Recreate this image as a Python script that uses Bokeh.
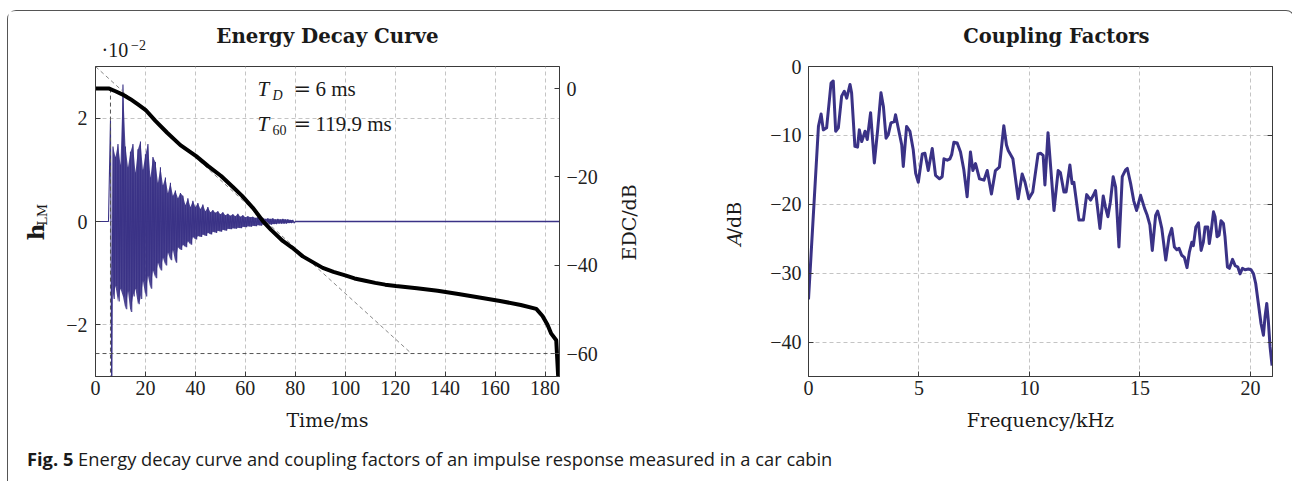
from bokeh.plotting import figure
from bokeh.layouts import row, column
from bokeh.models import (Range1d, LinearAxis, Label, FixedTicker, Div, Spacer, Span)
from bokeh.embed import file_html
from bokeh.resources import INLINE

# ---------------- data ----------------
edc_t = [0, 5.5, 8, 10.7, 14, 17, 20, 24, 28.7, 34, 40.3, 45, 50.3, 55, 58.7, 63, 67, 70.3, 75,
         78.7, 83, 87, 91, 95.3, 100, 103.7, 108, 112, 116, 120.3, 128.7, 137, 145.3, 153.7,
         162, 170.3, 176.5, 179, 181, 182.5, 184.5, 185.3]
edc_db = [0, 0, -0.6, -1.3, -2.4, -3.6, -4.8, -7.3, -10, -12.8, -15.3, -17.5, -19.8, -22.3, -24.3,
          -27, -30, -32, -34.5, -36, -38, -39.3, -40.6, -41.5, -42.3, -43, -43.5, -44, -44.4,
          -44.7, -45.2, -45.8, -46.5, -47.3, -48.1, -49, -49.9, -51.5, -53.5, -55.5, -57, -65.5]

ir_t_start = 6.0
ir_dt = 1.0
ir_up = [1.96, 1.45, 1.25, 1.5, 1.1, 2.65, 1.45, 1.05, 1.35, 1.5, 0.95, 1.4, 1.55, 1.0, 1.3,
         1.5, 0.85, 1.25, 1.15, 0.75, 1.05, 0.7, 0.85, 0.55, 0.75, 0.5, 0.6, 0.45, 0.55, 0.5,
         0.32, 0.45, 0.28, 0.4, 0.28, 0.36, 0.24, 0.33, 0.2, 0.28, 0.18, 0.22, 0.17, 0.2, 0.14,
         0.18, 0.12, 0.15, 0.11, 0.14, 0.1, 0.15, 0.09, 0.12, 0.08, 0.1, 0.08, 0.09, 0.07, 0.08,
         0.06, 0.07, 0.05, 0.06, 0.05, 0.06, 0.04, 0.05, 0.04, 0.05, 0.04, 0.04, 0.03, 0.03]
ir_lo = [-3.6, -1.5, -1.25, -1.55, -1.3, -1.45, -1.7, -1.35, -1.75, -1.45, -1.3, -1.6, -1.5,
         -1.15, -1.45, -1.05, -1.3, -0.95, -1.1, -0.8, -0.95, -0.7, -0.85, -0.6, -0.75, -0.55,
         -0.8, -0.5, -0.55, -0.45, -0.5, -0.38, -0.45, -0.3, -0.35, -0.28, -0.3, -0.25, -0.28,
         -0.22, -0.25, -0.2, -0.22, -0.18, -0.2, -0.16, -0.18, -0.14, -0.15, -0.13, -0.14, -0.12,
         -0.13, -0.1, -0.11, -0.09, -0.1, -0.08, -0.09, -0.07, -0.08, -0.06, -0.07, -0.05, -0.06,
         -0.05, -0.05, -0.04, -0.04, -0.04, -0.04, -0.03, -0.03, -0.03]
ir_onset_ms = 5.2
ir_tail_start_ms = 80.0

td_ms = 6
t60_ms = 119.9
ref_level_db = -60
decay_fit_t = [0, 126.5]
decay_fit_db = [5, -60]

cf_khz = [0.0, 0.45, 0.57, 0.67, 0.82, 1.02, 1.12, 1.23, 1.35, 1.5, 1.62, 1.73, 1.88, 1.95, 2.1,
          2.22, 2.3, 2.41, 2.56, 2.66, 2.81, 2.98, 3.13, 3.28, 3.39, 3.51, 3.61, 3.73, 3.88, 3.94,
          4.06, 4.22, 4.29, 4.44, 4.59, 4.74, 4.85, 4.97, 5.15, 5.27, 5.42, 5.6, 5.75, 5.93, 6.05,
          6.13, 6.28, 6.4, 6.48, 6.58, 6.73, 6.88, 7.03, 7.18, 7.33, 7.44, 7.56, 7.74, 7.94, 8.09,
          8.28, 8.46, 8.64, 8.84, 8.96, 9.04, 9.25, 9.49, 9.67, 9.8, 9.97, 10.15, 10.39, 10.5,
          10.62, 10.7, 10.84, 10.97, 11.11, 11.3, 11.4, 11.56, 11.66, 11.83, 11.93, 12.01, 12.24,
          12.44, 12.59, 12.77, 12.89, 12.99, 13.19, 13.34, 13.44, 13.55, 13.66, 13.79, 13.9,
          14.05, 14.2, 14.35, 14.43, 14.58, 14.72, 14.85, 15.03, 15.21, 15.33, 15.45, 15.56,
          15.71, 15.8, 15.87, 15.99, 16.17, 16.32, 16.44, 16.56, 16.67, 16.77, 16.89, 17.01,
          17.13, 17.24, 17.35, 17.42, 17.53, 17.65, 17.77, 17.87, 17.95, 18.07, 18.14, 18.22,
          18.33, 18.4, 18.49, 18.58, 18.67, 18.78, 18.85, 18.96, 19.05, 19.19, 19.31, 19.43,
          19.53, 19.64, 19.76, 19.91, 20.03, 20.14, 20.24, 20.36, 20.48, 20.59, 20.66, 20.74,
          20.81, 20.89, 20.98]
cf_db = [-33.8, -8.7, -6.9, -9.2, -8.9, -2.4, -2.1, -9.4, -8.9, -4.3, -3.6, -4.6, -2.6, -3.8,
         -11.6, -11.7, -9.2, -10.9, -9.4, -10.6, -6.7, -14.0, -9.2, -3.8, -5.8, -10.4, -9.9,
         -8.2, -8.0, -7.0, -8.9, -11.4, -14.5, -8.7, -9.4, -12.1, -15.5, -16.8, -12.7, -12.6,
         -15.1, -11.9, -15.8, -16.3, -16.0, -13.4, -13.6, -13.4, -12.8, -11.0, -11.1, -12.4,
         -15.0, -18.9, -12.4, -15.1, -14.1, -16.3, -16.5, -15.1, -18.5, -15.1, -14.6, -8.6,
         -11.4, -12.2, -13.4, -19.2, -15.6, -16.8, -19.2, -18.2, -12.7, -12.6, -12.9, -17.2,
         -9.6, -15.0, -20.9, -15.1, -15.4, -18.2, -18.2, -14.3, -17.0, -16.8, -22.3, -22.3,
         -18.6, -19.4, -18.7, -18.0, -23.5, -18.8, -20.4, -21.8, -19.7, -16.0, -17.5, -26.2,
         -16.0, -15.0, -14.8, -17.0, -19.5, -20.9, -18.7, -20.6, -21.6, -23.0, -26.7, -21.6,
         -21.0, -21.8, -23.5, -28.1, -24.7, -23.5, -26.2, -26.6, -26.4, -27.4, -27.7, -29.2,
         -26.9, -25.5, -26.0, -23.3, -22.7, -26.7, -25.5, -23.3, -23.3, -25.7, -24.0, -21.1,
         -21.8, -24.7, -24.5, -22.4, -22.8, -24.7, -29.1, -29.3, -28.0, -28.9, -29.1, -30.1,
         -29.3, -29.5, -29.4, -29.5, -30.1, -31.5, -34.4, -37.3, -39.0, -36.4, -34.4, -36.9,
         -40.7, -43.4]

time_ticks = [0, 20, 40, 60, 80, 100, 120, 140, 160, 180]
h_ticks = [-2, 0, 2]
edc_ticks = [-60, -40, -20, 0]
f_ticks = [0, 5, 10, 15, 20]
a_ticks = [-40, -30, -20, -10, 0]

assert len(ir_up) == len(ir_lo)
assert len(cf_khz) == len(cf_db)
assert len(edc_t) == len(edc_db)

# ---------------- layout geometry (absolute page pixels) ----------------
BLUE = "#3a3286"
GRID = "#c4c4c4"
AX = "#3a3a3a"
INK = "#1a1a1a"
NUM_FONT = "Liberation Serif"
TXT_FONT = "DejaVu Serif"
OX, OY = 8, 11
BOTTOM = 436
A_TOP = 65
B_TOP = 55
W_L, W_P1, W_M, W_P2 = 51, 551, 150, 524
X_P1 = OX + W_L
X_M = X_P1 + W_P1
X_P2 = X_M + W_M
F1 = dict(l=95, r=559, t=66, b=376)
F2 = dict(l=808, r=1272, t=66, b=376)
MID_K = 0.34        # em distance from alphabetic baseline to the middle of the text box
ROT_DY = 30         # along-text correction for rotated labels (px, downwards)


def px(size):
    return float(size.replace("px", ""))


def minus(v):
    return str(v).replace("-", "\u2212")


def style_axis(ax, ticks, show=True):
    ax.ticker = FixedTicker(ticks=ticks)
    ax.major_label_overrides = {t: (minus(t) if show else "") for t in ticks}
    ax.major_label_text_font = NUM_FONT
    ax.major_label_text_font_size = "20px"
    ax.major_label_text_color = "#222"
    ax.axis_line_color = AX
    ax.major_tick_line_color = AX
    ax.major_tick_in = 5
    ax.major_tick_out = 0
    ax.minor_tick_line_color = None
    ax.axis_label_text_font = TXT_FONT
    ax.axis_label_text_font_size = "19px"
    ax.axis_label_text_font_style = "normal"
    ax.axis_label_text_color = INK


def style_grid(g, ticks):
    g.ticker = FixedTicker(ticks=ticks)
    g.grid_line_color = GRID
    g.grid_line_dash = "4 3"
    g.grid_line_width = 1


class Panel:
    """A bare figure whose frame fills it; holds text placed by absolute page pixels."""

    def __init__(self, left, top, width, height):
        self.left, self.top, self.height = left, top, height
        self.fig = figure(width=width, height=height, x_range=Range1d(0, width),
                          y_range=Range1d(0, height), x_axis_type=None, y_axis_type=None,
                          output_backend="svg", toolbar_location=None, min_border=0,
                          title=None)
        self.fig.outline_line_color = None
        self.fig.background_fill_color = "white"
        self.fig.border_fill_color = "white"
        self.fig.xgrid.visible = False
        self.fig.ygrid.visible = False

    def text(self, ax_, baseline_y, text, size, font=TXT_FONT, style="normal", align="left"):
        """Horizontal text whose alphabetic baseline sits at baseline_y (page px)."""
        cy = baseline_y - MID_K * px(size)
        self.fig.add_layout(Label(x=ax_ - self.left, y=self.top + self.height - cy, text=text,
                                  text_font=font, text_font_size=size, text_font_style=style,
                                  text_align=align, text_baseline="middle", text_color=INK))

    def vtext(self, cx, cy, text, size, font=TXT_FONT, style="normal"):
        """Text reading bottom-to-top, centred at (cx, cy) in page px."""
        cy = cy + ROT_DY
        self.fig.add_layout(Label(x=cx - self.left, y=self.top + self.height - cy, text=text,
                                  text_font=font, text_font_size=size, text_font_style=style,
                                  text_align="center", text_baseline="middle", angle=90,
                                  angle_units="deg", text_color=INK))


def put(p, x, y, text, size, font=TXT_FONT, style="normal"):
    p.add_layout(Label(x=x, y=y, text=text, text_font=font, text_font_size=size,
                       text_font_style=style, text_align="left", text_baseline="middle",
                       text_color=INK))


# ---------------- left plot: Energy Decay Curve ----------------
X0, X1 = 0, 185.8
p1 = figure(width=W_P1, height=BOTTOM - A_TOP, x_range=Range1d(X0, X1), y_range=Range1d(-3, 3),
            output_backend="svg", toolbar_location=None,
            min_border_left=F1["l"] - X_P1, min_border_right=X_M - F1["r"],
            min_border_top=F1["t"] - A_TOP, min_border_bottom=BOTTOM - F1["b"])
p1.outline_line_color = AX
p1.background_fill_color = "white"
p1.border_fill_color = "white"
p1.extra_y_ranges = {"edc": Range1d(-65.2, 5.0)}
style_axis(p1.xaxis[0], time_ticks)
p1.xaxis.major_label_standoff = 4
p1.xaxis.axis_label = "Time/ms"
p1.xaxis.axis_label_standoff = 11
style_axis(p1.yaxis[0], h_ticks)
p1.yaxis.major_label_standoff = 8
rax = LinearAxis(y_range_name="edc")
style_axis(rax, edc_ticks)
rax.major_label_standoff = 7
p1.add_layout(rax, "right")
style_grid(p1.xgrid[0], time_ticks)
style_grid(p1.ygrid[0], h_ticks)

ir_times = [ir_t_start + i * ir_dt for i in range(len(ir_up))]
sig_t = [0, ir_onset_ms]
sig_v = [0, 0]
for t, u, l in zip(ir_times, ir_up, ir_lo):
    sig_t += [t, t + ir_dt / 2]
    sig_v += [u, l]
sig_t += [ir_tail_start_ms, X1]
sig_v += [0, 0]
p1.varea(x=ir_times[1:], y1=ir_lo[1:], y2=ir_up[1:], fill_color=BLUE, fill_alpha=0.9)
p1.line(sig_t, sig_v, line_color=BLUE, line_width=1.1)
p1.line(sig_t[-2:], sig_v[-2:], line_color=BLUE, line_width=1.6)

p1.add_layout(Span(location=ref_level_db, dimension="width", y_range_name="edc",
                   line_color="#555", line_dash="4 3", line_width=1))
p1.segment(x0=[td_ms], y0=[0], x1=[td_ms], y1=[-65.2], y_range_name="edc",
           line_color="#555", line_dash="4 3", line_width=1)
p1.line(decay_fit_t, decay_fit_db, y_range_name="edc", line_color="#888",
        line_dash="4 3", line_width=1)
p1.line(edc_t, edc_db, y_range_name="edc", line_color="black", line_width=4)


def p1x(x_px):
    return X0 + (x_px - F1["l"]) / (F1["r"] - F1["l"]) * (X1 - X0)


def p1y(baseline_px, size):
    cy = baseline_px - MID_K * px(size)
    return 3 - (cy - F1["t"]) / (F1["b"] - F1["t"]) * 6


put(p1, p1x(257), p1y(96, "21px"), "T", "21px", font=NUM_FONT, style="italic")
put(p1, p1x(272), p1y(100, "14px"), "D", "14px", font=NUM_FONT, style="italic")
put(p1, p1x(293), p1y(96, "21px"), "=", "21px")
put(p1, p1x(315), p1y(96, "21px"), str(td_ms) + " ms", "21px", font=NUM_FONT)
put(p1, p1x(257), p1y(130.5, "21px"), "T", "21px", font=NUM_FONT, style="italic")
put(p1, p1x(272), p1y(134.5, "14px"), "60", "14px", font=NUM_FONT)
put(p1, p1x(293), p1y(130.5, "21px"), "=", "21px")
put(p1, p1x(315), p1y(130.5, "21px"), str(t60_ms) + " ms", "21px", font=NUM_FONT)

# ---------------- right plot: Coupling Factors ----------------
FX0, FX1 = 0, 21
FY0, FY1 = -45, 0
p2 = figure(width=W_P2, height=BOTTOM - B_TOP, x_range=Range1d(FX0, FX1),
            y_range=Range1d(FY0, FY1), output_backend="svg", toolbar_location=None,
            min_border_left=F2["l"] - X_P2, min_border_right=X_P2 + W_P2 - F2["r"],
            min_border_top=F2["t"] - B_TOP, min_border_bottom=BOTTOM - F2["b"])
p2.outline_line_color = AX
p2.background_fill_color = "white"
p2.border_fill_color = "white"
style_axis(p2.xaxis[0], f_ticks)
p2.xaxis.major_label_standoff = 4
p2.xaxis.axis_label = "Frequency/kHz"
p2.xaxis.axis_label_standoff = 11
style_axis(p2.yaxis[0], a_ticks)
p2.yaxis.major_label_standoff = 7
rax2 = LinearAxis()
style_axis(rax2, a_ticks, show=False)
p2.add_layout(rax2, "right")
style_grid(p2.xgrid[0], f_ticks)
style_grid(p2.ygrid[0], a_ticks)
p2.line(cf_khz, cf_db, line_color=BLUE, line_width=3, line_join="round")

# ---------------- text panels around the plots ----------------
topA = Panel(OX, OY, W_L + W_P1 + W_M, A_TOP - OY)
topA.text(327, 42.5, "Energy Decay Curve", "19.8px", style="bold", align="center")
topA.text(101, 56.5, "\u00b710", "20px", font=NUM_FONT)
topA.text(130.5, 49.5, "\u22122", "14px", font=NUM_FONT)

topB = Panel(X_P2, OY, W_P2, B_TOP - OY)
topB.text(1040, 42.5, "Coupling Factors", "19.5px", style="bold", align="center")

left_txt = Panel(OX, A_TOP, W_L, BOTTOM - A_TOP)
left_txt.vtext(35.0, 233.0, "h", "23px", style="bold")
left_txt.vtext(41.5, 212.5, "LM", "13px")

mid_txt = Panel(X_M, A_TOP, W_M, BOTTOM - A_TOP)
mid_txt.vtext(628, 221.5, "EDC/dB", "19px")
mid_txt.vtext(733, 241.2, "A", "19px", style="italic")
mid_txt.vtext(733, 216.5, "/dB", "19px")

# ---------------- caption & frame ----------------
cap = Div(text='<div style="font-family:\'Open Sans\';font-size:18.3px;color:#1a1a1a;'
               'padding:5px 0 0 14px;white-space:nowrap"><b>Fig. 5</b> Energy decay curve and '
               'coupling factors of an impulse response measured in a car cabin</div>',
          width=1276, height=481 - BOTTOM)

colA = column(topA.fig, row(left_txt.fig, p1, mid_txt.fig))
colB = column(topB.fig, p2)
inner = column(row(colA, colB), cap,
               styles={"border-top": "1px solid #555", "border-left": "1px solid #555",
                       "border-right": "1px solid #555",
                       "border-radius": "9px 9px 0 0"})
root = column(Spacer(height=10), row(Spacer(width=7), inner))

open("out.html", "w").write(file_html(root, INLINE))
